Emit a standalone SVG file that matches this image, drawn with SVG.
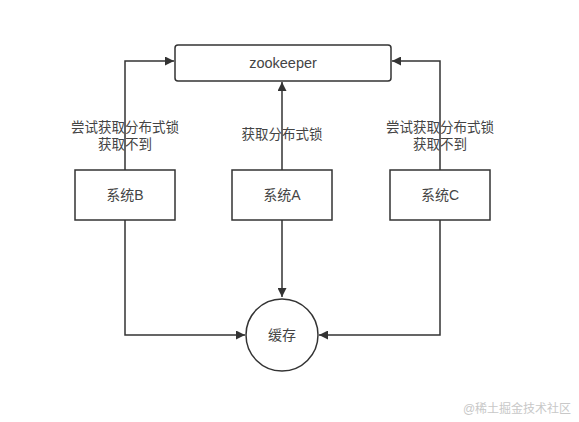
<svg xmlns="http://www.w3.org/2000/svg" width="579" height="422" viewBox="0 0 579 422">
<style>
.box{fill:#fff;stroke:#333;stroke-width:1.5}
.ln{fill:none;stroke:#333;stroke-width:1.5}
text{font-family:"Liberation Sans","Noto Sans CJK SC",sans-serif;fill:#444;text-anchor:middle}
.t{font-size:14px}
.lb{font-size:13.5px}
</style>
<defs>
<marker id="ah" viewBox="0 0 10 10" refX="10" refY="5" markerWidth="9" markerHeight="9" markerUnits="userSpaceOnUse" orient="auto">
<path d="M0,0 L10,5 L0,10 z" fill="#333"/>
</marker>
</defs>
<rect width="579" height="422" fill="#fff"/>
<g id="connectors">
<polyline class="ln" points="125,170 125,61 174,61" marker-end="url(#ah)"/>
<polyline class="ln" points="282,170 282,82" marker-end="url(#ah)"/>
<polyline class="ln" points="440,170 440,61 392,61" marker-end="url(#ah)"/>
<polyline class="ln" points="125,220 125,335 245,335" marker-end="url(#ah)"/>
<polyline class="ln" points="282,220 282,297" marker-end="url(#ah)"/>
<polyline class="ln" points="440,220 440,335 319,335" marker-end="url(#ah)"/>
<text class="lb" x="125" y="132">尝试获取分布式锁</text>
<text class="lb" x="125" y="149">获取不到</text>
<text class="lb" x="282" y="139">获取分布式锁</text>
<text class="lb" x="440" y="132">尝试获取分布式锁</text>
<text class="lb" x="440" y="149">获取不到</text>
</g>
<g id="zookeeper">
<rect class="box" x="175" y="45" width="216" height="36" rx="3"/>
<text x="283" y="68" style="font-size:14.5px">zookeeper</text>
</g>
<g id="sysB">
<rect class="box" x="75" y="170" width="100" height="50"/>
<text class="t" x="125" y="200">系统B</text>
</g>
<g id="sysA">
<rect class="box" x="232" y="170" width="100" height="50"/>
<text class="t" x="282" y="200">系统A</text>
</g>
<g id="sysC">
<rect class="box" x="390" y="170" width="100" height="50"/>
<text class="t" x="440" y="200">系统C</text>
</g>
<g id="cache">
<circle class="box" cx="282" cy="335" r="36"/>
<text class="t" x="282" y="340">缓存</text>
</g>
<text x="517" y="413" style="font-size:12px;fill:#c8c8c8">@稀土掘金技术社区</text>
</svg>
